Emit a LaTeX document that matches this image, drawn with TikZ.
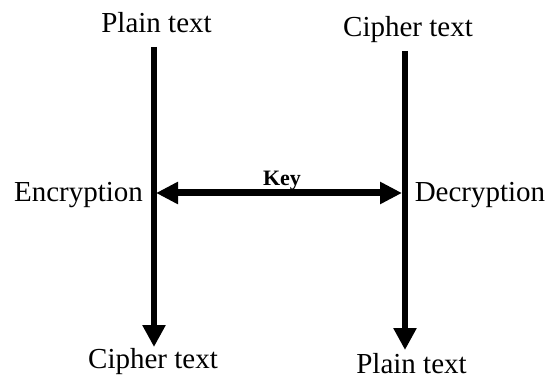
\documentclass[tikz,border=0pt]{standalone}
\usepackage{fontspec}
\setmainfont{Liberation Serif}
\usetikzlibrary{arrows.meta}
\tikzset{
  lbl/.style={inner sep=0pt, anchor=base, font=\fontsize{29}{34}\selectfont},
  keylbl/.style={inner sep=0pt, anchor=base, font=\fontsize{22}{26}\selectfont\bfseries},
  flow/.style={line width=6pt, -{Triangle[length=22pt,width=22pt]}},
  keyline/.style={line width=7pt, {Triangle[length=22pt,width=21pt]}-{Triangle[length=22pt,width=21pt]}}
}
\begin{document}
\begin{tikzpicture}[x=1pt,y=-1pt]
  \useasboundingbox (0,0) rectangle (546,382);
  % labels
  \node[lbl] (encIn)  at (156.5,33) {Plain text};
  \node[lbl] (decIn)  at (408,37)   {Cipher text};
  \node[lbl] (encOut) at (153,368)  {Cipher text};
  \node[lbl] (decOut) at (411.5,373){Plain text};
  \node[lbl] (enc)    at (78.5,202) {Encryption};
  \node[lbl] (dec)    at (480,202)  {Decryption};
  \node[keylbl] (key) at (282,186)  {Key};
  % line end points
  \coordinate (encTop) at (154,47);
  \coordinate (encBot) at (154,347);
  \coordinate (decTop) at (405,51);
  \coordinate (decBot) at (405,350);
  \coordinate (keyL) at (156,193);
  \coordinate (keyR) at (402,193);
  % encryption and decryption flows
  \draw[flow] (encTop) -- (encBot);
  \draw[flow] (decTop) -- (decBot);
  % shared key
  \draw[keyline] (keyL) -- (keyR);
\end{tikzpicture}
\end{document}
